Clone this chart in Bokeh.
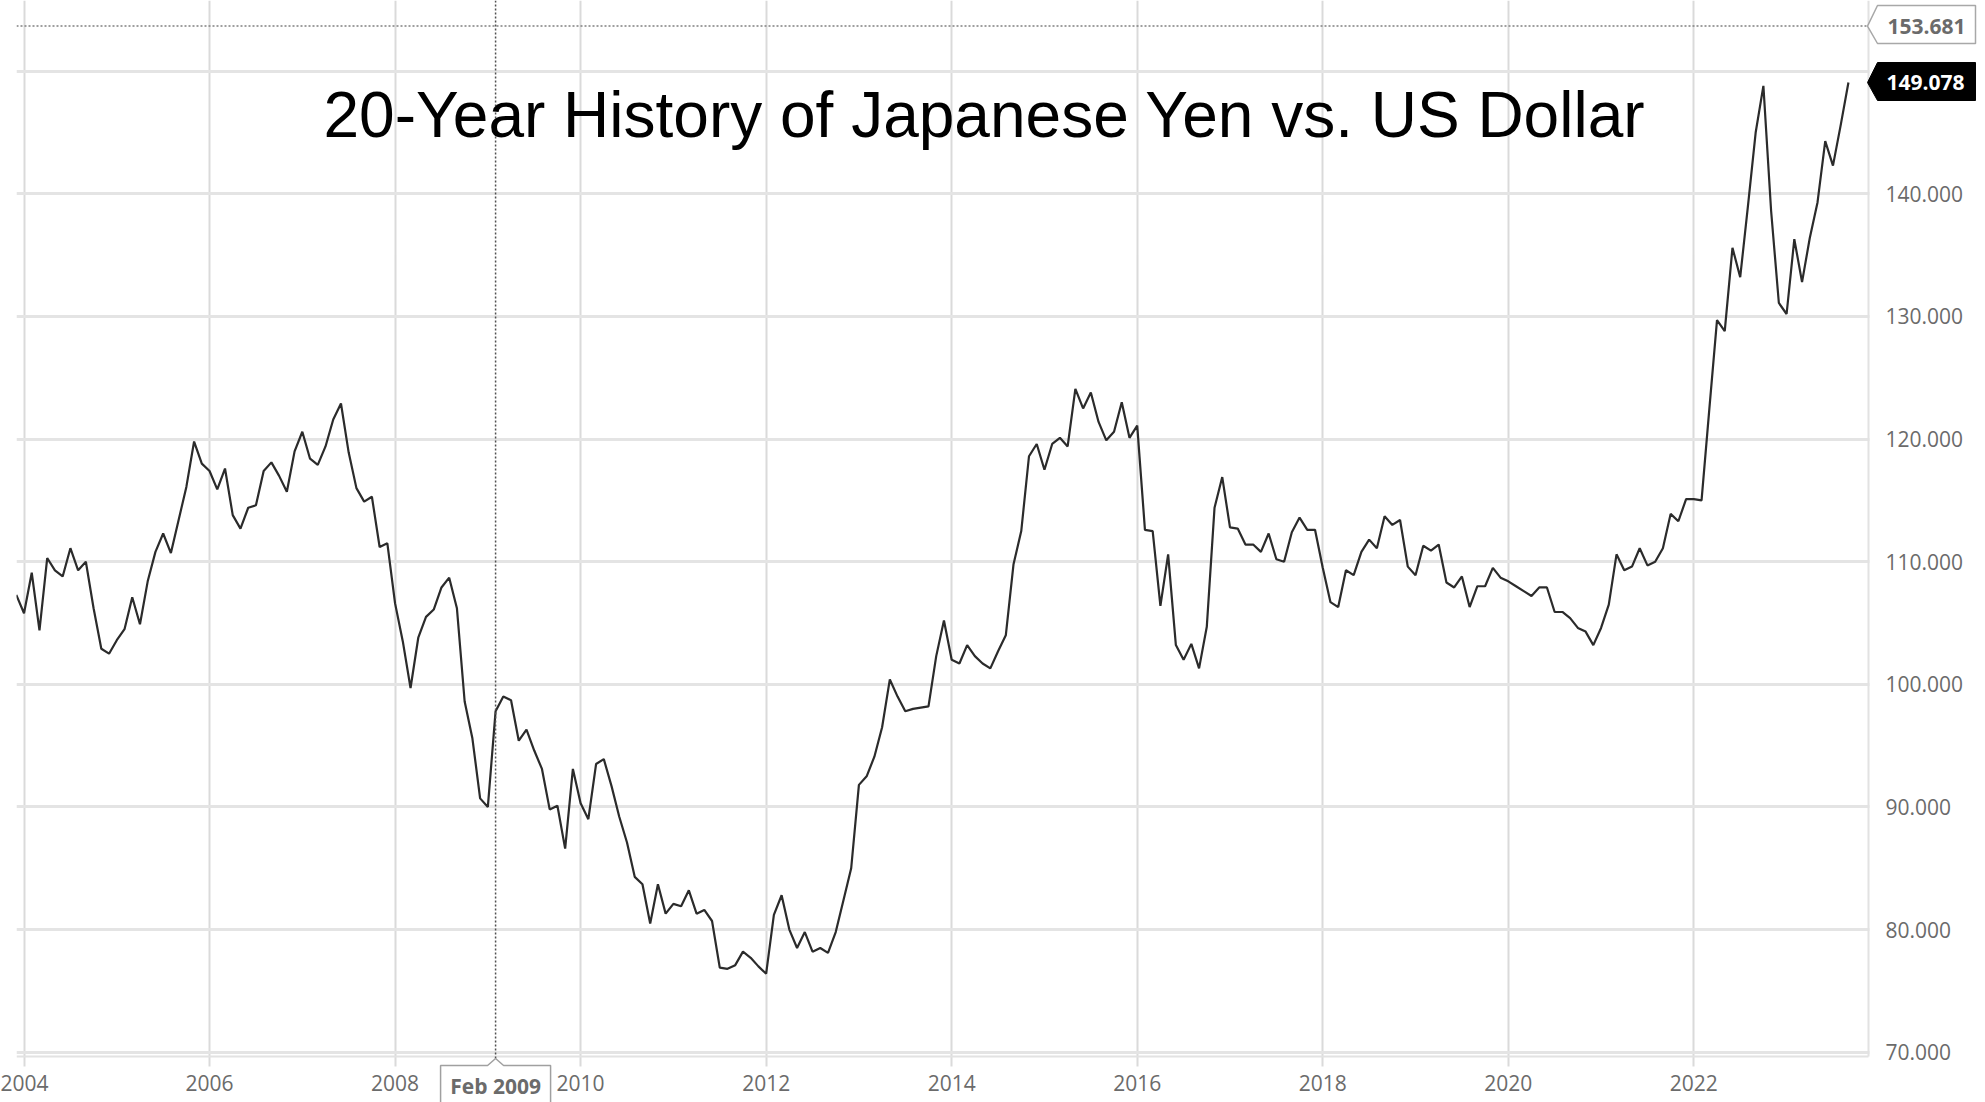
from bokeh.plotting import figure
from bokeh.models import FixedTicker, PrintfTickFormatter, Label, ColumnDataSource
from bokeh.embed import file_html
from bokeh.resources import INLINE

# ---------------- data ----------------
start_year = 2003
start_month = 12          # first monthly close: Dec 2003
usd_jpy = [
    107.3, 105.8, 109.1, 104.4, 110.3, 109.3, 108.8, 111.1, 109.3, 110.0, 106.2, 102.9,
    102.5, 103.6, 104.5, 107.1, 104.9, 108.4, 110.8, 112.3, 110.7, 113.4, 116.1, 119.8,
    118.0, 117.4, 115.9, 117.6, 113.8, 112.7, 114.4, 114.6, 117.4, 118.1, 117.0, 115.7,
    119.0, 120.6, 118.4, 117.9, 119.4, 121.6, 122.9, 118.9, 116.0, 114.9, 115.3, 111.2,
    111.5, 106.6, 103.5, 99.7, 103.8, 105.5, 106.1, 107.9, 108.7, 106.2, 98.6, 95.6,
    90.7, 90.0, 97.8, 99.0, 98.7, 95.4, 96.3, 94.6, 93.1, 89.8, 90.1, 86.6,
    93.1, 90.3, 89.0, 93.5, 93.9, 91.7, 89.2, 87.1, 84.3, 83.7, 80.5, 83.7,
    81.3, 82.1, 81.9, 83.2, 81.3, 81.6, 80.7, 76.9, 76.8, 77.1, 78.2, 77.7,
    77.0, 76.4, 81.2, 82.8, 80.0, 78.5, 79.8, 78.2, 78.5, 78.1, 79.8, 82.4,
    85.0, 91.8, 92.5, 94.1, 96.5, 100.4, 99.0, 97.8, 98.0, 98.1, 98.2, 102.3,
    105.2, 102.0, 101.7, 103.2, 102.3, 101.7, 101.3, 102.7, 104.0, 109.8, 112.5, 118.6,
    119.6, 117.5, 119.6, 120.1, 119.4, 124.1, 122.5, 123.8, 121.4, 119.9, 120.6, 123.0,
    120.1, 121.1, 112.6, 112.5, 106.4, 110.6, 103.2, 102.0, 103.3, 101.3, 104.7, 114.4,
    116.9, 112.8, 112.7, 111.4, 111.4, 110.8, 112.3, 110.2, 110.0, 112.4, 113.6, 112.6,
    112.6, 109.5, 106.7, 106.3, 109.3, 108.9, 110.8, 111.8, 111.1, 113.7, 113.0, 113.4,
    109.6, 108.9, 111.3, 110.9, 111.4, 108.3, 107.9, 108.8, 106.3, 108.0, 108.0, 109.5,
    108.7, 108.4, 108.0, 107.6, 107.2, 107.9, 107.9, 105.9, 105.9, 105.4, 104.6, 104.3,
    103.2, 104.6, 106.5, 110.6, 109.3, 109.6, 111.1, 109.7, 110.0, 111.1, 113.9, 113.3,
    115.1, 115.1, 115.0, 122.4, 129.7, 128.8, 135.6, 133.2, 139.0, 145.0, 148.8, 138.6,
    131.1, 130.2, 136.3, 132.8, 136.4, 139.3, 144.3, 142.3, 145.6, 149.078,
]
x_ticks = [2004, 2006, 2008, 2010, 2012, 2014, 2016, 2018, 2020, 2022]
y_ticks = [70, 80, 90, 100, 110, 120, 130, 140]
y_grid = [70, 80, 90, 100, 110, 120, 130, 140, 150]
high_level = 153.681
current_close = 149.078
crosshair_year = 2009
crosshair_month = 2
crosshair_text = "Feb 2009"
title_text = "20-Year History of Japanese Yen vs. US Dollar"

years = [start_year + (start_month - 1 + i) / 12.0 for i in range(len(usd_jpy))]
source = ColumnDataSource(data=dict(x=years, y=usd_jpy))

# ---------------- geometry (canvas pixels) ----------------
W, H = 1985, 1102
X0, X1 = 2003.919, 2023.883      # years at x = 16 px and x = 1868 px (chart area)
Y0, Y1 = 69.65, 155.766          # values at y = 1056 px and y = 0 px
PL, PR, PT, PB = 16, 1868, 0, 1056   # plotting-area edges


def dx(px):
    return X0 + (px - PL) * (X1 - X0) / (PR - PL)


def dy(py):
    return Y1 - (py - PT) * (Y1 - Y0) / (PB - PT)


# The frame covers the whole canvas right of x=16 so that the price tags
# in the axis area are drawn; the axes sit on the canvas edge and
# pull their labels back into place with a negative standoff.
p = figure(width=W, height=H, x_range=(X0, dx(W)), y_range=(dy(H), Y1),
           output_backend="svg", toolbar_location=None, y_axis_location="right",
           min_border_left=PL, min_border_right=0, min_border_top=0, min_border_bottom=0)
p.outline_line_color = None
p.background_fill_color = "white"
p.border_fill_color = "white"

label_grey = "#6b6b6b"
grid_grey = "#e2e2e2"

xa = p.xaxis[0]
xa.ticker = FixedTicker(ticks=x_ticks)
xa.axis_line_color = None
xa.major_tick_line_color = None
xa.major_tick_out = 0
xa.major_tick_in = 0
xa.minor_tick_line_color = None
xa.major_label_standoff = -28
xa.major_label_text_font = "Open Sans"
xa.major_label_text_font_size = "21px"
xa.major_label_text_color = label_grey

ya = p.yaxis[0]
ya.ticker = FixedTicker(ticks=y_ticks)
ya.formatter = PrintfTickFormatter(format="%.3f")
ya.axis_line_color = None
ya.major_tick_line_color = None
ya.major_tick_out = 0
ya.major_tick_in = 0
ya.minor_tick_line_color = None
ya.major_label_standoff = -(W - 1885)
ya.major_label_text_font = "Open Sans"
ya.major_label_text_font_size = "21px"
ya.major_label_text_color = label_grey

p.xgrid.grid_line_color = "#dadada"
p.xgrid.grid_line_width = 2
p.ygrid.ticker = FixedTicker(ticks=y_grid)
p.ygrid.grid_line_color = "#e4e4e4"
p.ygrid.grid_line_width = 3

# blank the grid outside the chart area (right label column, below tick marks)
p.quad(left=[dx(PR + 1), X0], right=[dx(W + 5), dx(W + 5)],
       bottom=[dy(H + 5), dy(H + 5)], top=[dy(-5), dy(PB + 10)],
       fill_color="white", line_color=None)

# axis lines (bottom and right edge of the chart area)
p.segment(x0=[X0, dx(PR)], y0=[dy(PB), dy(PT)], x1=[dx(PR), dx(PR)], y1=[dy(PB), dy(PB)],
          line_color=grid_grey, line_width=2)

# price line
p.line("x", "y", source=source, line_color="#2b2b2b", line_width=2.2)

# crosshair / reference lines
cross_x = crosshair_year + (crosshair_month - 1) / 12.0
cx_px = PL + (cross_x - X0) * (PR - PL) / (X1 - X0)
p.segment(x0=[X0], y0=[high_level], x1=[dx(1867)], y1=[high_level],
          line_color="#808080", line_width=1.5, line_dash="2 2")
p.segment(x0=[cross_x], y0=[dy(PT)], x1=[cross_x], y1=[dy(1058)],
          line_color="#505050", line_width=1.5, line_dash="2 2")

# price tags (pointed boxes)
p.patch(x=[dx(1867), dx(1877), dx(1975), dx(1975), dx(1877)],
        y=[high_level, dy(5), dy(5), dy(43), dy(43)],
        fill_color="white", line_color="#a8a8a8", line_width=1.5)
p.patch(x=[dx(1867), dx(1877), dx(1975), dx(1975), dx(1877)],
        y=[current_close, dy(62), dy(62), dy(100), dy(100)],
        fill_color="black", line_color="black", line_width=1)
p.patch(x=[dx(cx_px - 55), dx(cx_px - 8), cross_x, dx(cx_px + 8), dx(cx_px + 55),
           dx(cx_px + 55), dx(cx_px - 55)],
        y=[dy(1065), dy(1065), dy(1058), dy(1065), dy(1065), dy(1120), dy(1120)],
        fill_color="white", line_color="#a0a0a0", line_width=1.5)

p.add_layout(Label(x=dx(1887), y=high_level, text=f"{high_level:.3f}", text_font="Open Sans",
                   text_font_style="bold", text_font_size="21px", text_color=label_grey,
                   text_align="left", text_baseline="middle"))
p.add_layout(Label(x=dx(1886), y=current_close, text=f"{current_close:.3f}", text_font="Open Sans",
                   text_font_style="bold", text_font_size="21px", text_color="white",
                   text_align="left", text_baseline="middle"))
p.add_layout(Label(x=cross_x, y=dy(1085), text=crosshair_text, text_font="Open Sans",
                   text_font_style="bold", text_font_size="21px", text_color=label_grey,
                   text_align="center", text_baseline="middle"))

# title
p.add_layout(Label(x=dx(323), y=dy(114), text=title_text, text_font="Liberation Sans",
                   text_font_size="64px", text_color="black", text_align="left",
                   text_baseline="alphabetic"))

open("out.html", "w").write(file_html(p, INLINE))
